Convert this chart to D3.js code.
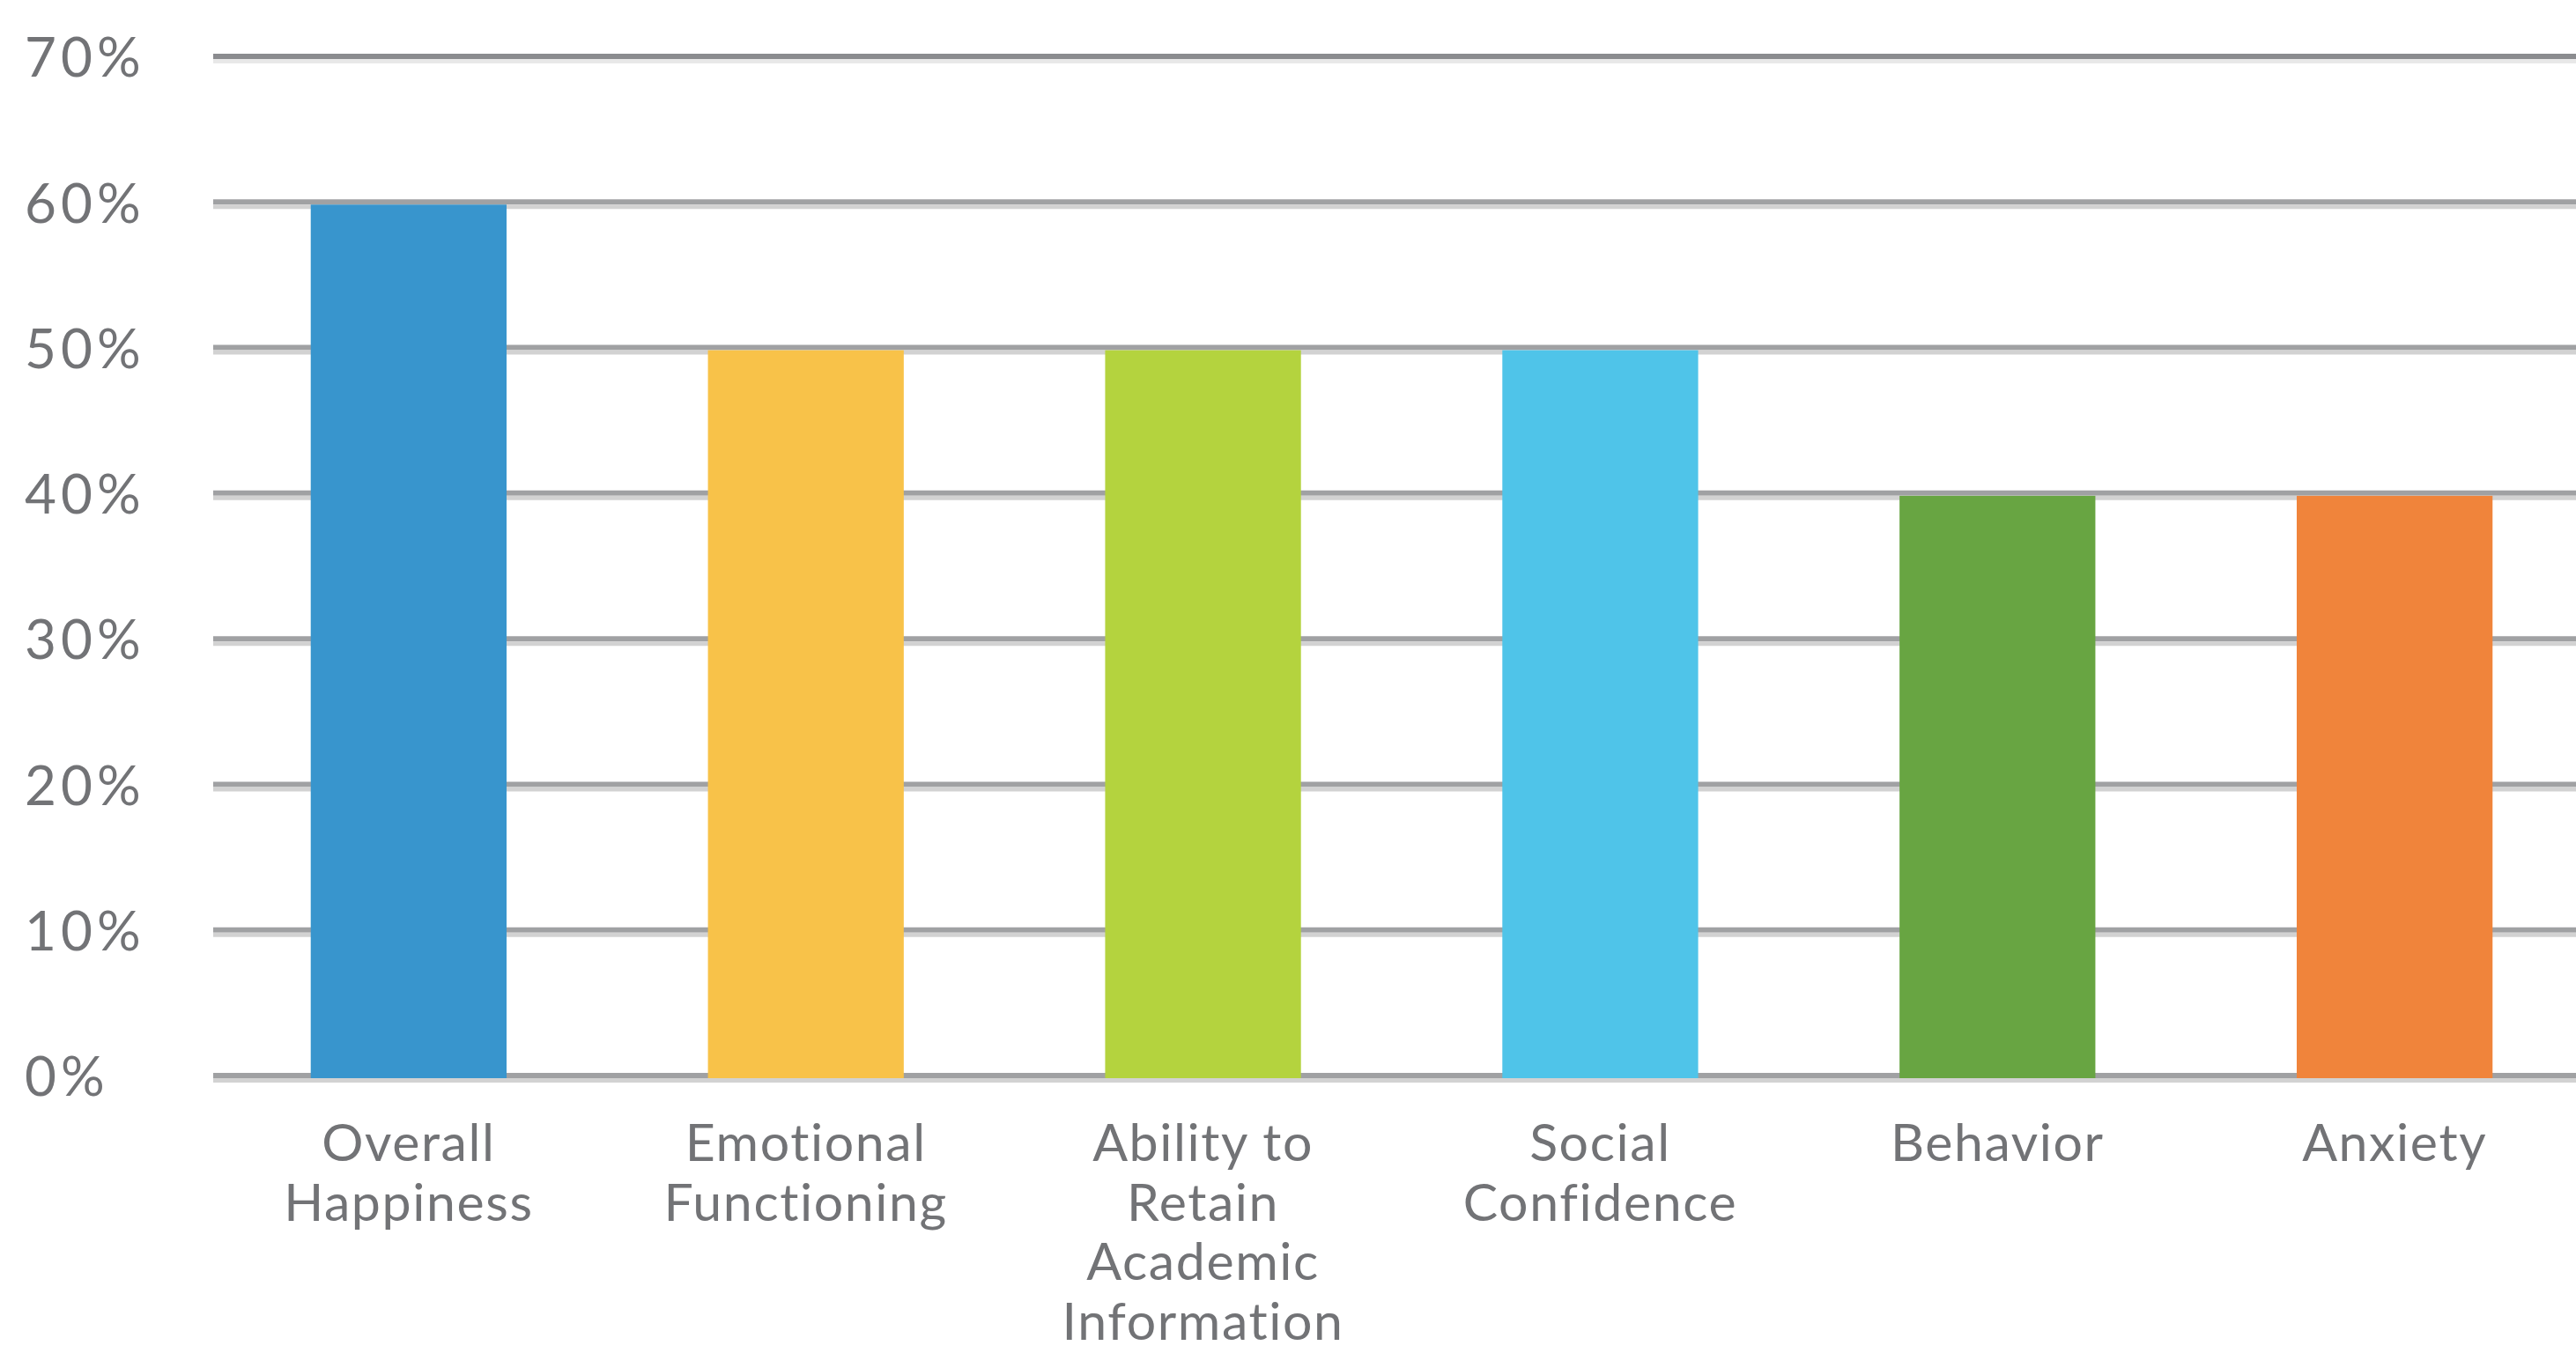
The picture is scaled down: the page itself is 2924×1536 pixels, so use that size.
<!DOCTYPE html>
<html>
<head>
<meta charset="utf-8">
<script src="https://cdn.jsdelivr.net/npm/d3@7"></script>
<style>
  html, body { margin: 0; padding: 0; background: #ffffff; overflow: hidden; }
  svg { display: block; }
  text { font-family: "Lato", "Open Sans", sans-serif; fill: #727376; }
</style>
</head>
<body>
<svg id="chart" width="2924" height="1536"></svg>
<script>
const categories = ["Overall Happiness", "Emotional Functioning", "Ability to Retain Academic Information", "Social Confidence", "Behavior", "Anxiety"];
const labelLines = [["Overall", "Happiness"], ["Emotional", "Functioning"], ["Ability to", "Retain", "Academic", "Information"], ["Social", "Confidence"], ["Behavior"], ["Anxiety"]];
const values = [60, 50, 50, 50, 40, 40];
const colors = ["#3895cd", "#f8c249", "#b4d33e", "#4fc4e9", "#68a542", "#f0843b"];
const yTicks = [0, 10, 20, 30, 40, 50, 60, 70];

const svg = d3.select("#chart");
const W = 2924, H = 1536;

const y = d3.scaleLinear().domain([0, 70]).range([1224, 67]);
const x = d3.scaleBand().domain(categories).range([240, 2942]).paddingInner(0.507).paddingOuter(0.25);

const gridX0 = 242, gridX1 = W;

// gridlines: darker band above, lighter band below
const grid = svg.append("g");
grid.selectAll("line.dark").data(yTicks).join("line")
  .attr("class", "dark")
  .attr("x1", gridX0).attr("x2", gridX1)
  .attr("y1", d => y(d) - 3).attr("y2", d => y(d) - 3)
  .attr("stroke", d => d === 70 ? "#8b8c8f" : "#a0a1a3")
  .attr("stroke-width", 6);
grid.selectAll("line.light").data(yTicks).join("line")
  .attr("class", "light")
  .attr("x1", gridX0).attr("x2", gridX1)
  .attr("y1", d => y(d) + 2.5).attr("y2", d => y(d) + 2.5)
  .attr("stroke", d => d === 70 ? "#e8e8e8" : "#d2d2d2")
  .attr("stroke-width", 5);

// y labels
svg.append("g").selectAll("text").data(yTicks).join("text")
  .attr("x", 28)
  .attr("y", d => y(d) - 2)
  .attr("dy", "0.36em")
  .attr("font-size", 62)
  .attr("letter-spacing", 5)
  .text(d => d + "%");

// bars
svg.append("g").selectAll("rect").data(categories).join("rect")
  .attr("x", d => x(d))
  .attr("width", x.bandwidth())
  .attr("y", (d, i) => y(values[i]))
  .attr("height", (d, i) => y(0) - y(values[i]))
  .attr("fill", (d, i) => colors[i]);

// x labels
const lx = svg.append("g");
categories.forEach((c, i) => {
  const t = lx.append("text")
    .attr("text-anchor", "middle")
    .attr("font-size", 59)
    .attr("letter-spacing", 1.6);
  labelLines[i].forEach((ln, j) => {
    t.append("tspan")
      .attr("x", x(c) + x.bandwidth() / 2)
      .attr("y", 1318 + j * 67.5)
      .text(ln);
  });
});
</script>
</body>
</html>
